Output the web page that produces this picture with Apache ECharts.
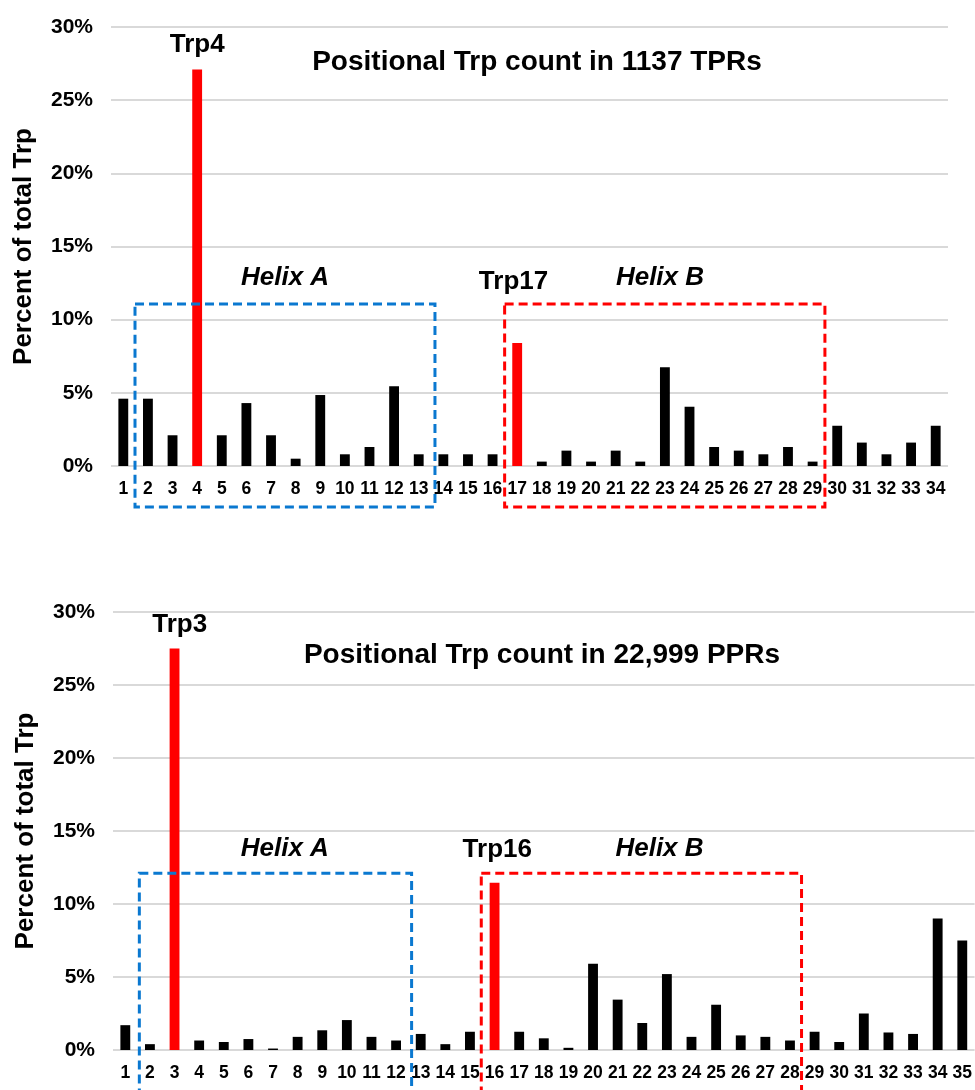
<!DOCTYPE html>
<html>
<head>
<meta charset="utf-8">
<script src="https://cdn.jsdelivr.net/npm/echarts@6/dist/echarts.min.js"></script>
<style>
  html, body { margin: 0; padding: 0; background: #fff; }
  #chart { width: 975px; height: 1090px; }
</style>
</head>
<body>
<div id="chart"></div>
<script>
// data (percent of total Trp per repeat position)
const tprPositions = ['1','2','3','4','5','6','7','8','9','10','11','12','13','14','15','16','17',
  '18','19','20','21','22','23','24','25','26','27','28','29','30','31','32','33','34'];
const tprValues = [4.6, 4.6, 2.1, 27.1, 2.1, 4.3, 2.1, 0.5, 4.85, 0.8, 1.3, 5.45, 0.8, 0.8, 0.8, 0.8, 8.4,
  0.3, 1.05, 0.3, 1.05, 0.3, 6.75, 4.05, 1.3, 1.05, 0.8, 1.3, 0.3, 2.75, 1.6, 0.8, 1.6, 2.75];
const tprHighlight = ['4', '17'];

const pprPositions = ['1','2','3','4','5','6','7','8','9','10','11','12','13','14','15','16','17','18',
  '19','20','21','22','23','24','25','26','27','28','29','30','31','32','33','34','35'];
const pprValues = [1.7, 0.4, 27.5, 0.65, 0.55, 0.75, 0.1, 0.9, 1.35, 2.05, 0.9, 0.65, 1.1, 0.4, 1.25, 11.45, 1.25, 0.8,
  0.15, 5.9, 3.45, 1.85, 5.2, 0.9, 3.1, 1.0, 0.9, 0.65, 1.25, 0.55, 2.5, 1.2, 1.1, 9.0, 7.5];
const pprHighlight = ['3', '16'];

const yTicks = [0, 30, 5]; // min, max, step (%)

const FONT = '"Liberation Sans", Arial, sans-serif';
const RED = '#ff0000';
const BLUE = '#0a78d0';

// annotation layout: pos = position along x in category widths from left edge, val = % on y axis
const panels = [
  {
    title: 'Positional Trp count in 1137 TPRs', titleXY: [537, 62],
    notes: [
      { text: 'Trp4', pos: 3.5, val: 28.75 },
      { text: 'Trp17', pos: 16.35, val: 12.6 },
      { text: 'Helix A', pos: 7.07, val: 12.85, italic: true },
      { text: 'Helix B', pos: 22.3, val: 12.85, italic: true }
    ],
    boxes: [
      { color: BLUE, from: 0.975, to: 13.16, top: 11.07, bottom: -2.8 },
      { color: RED, from: 15.99, to: 29.0, top: 11.07, bottom: -2.8 }
    ]
  },
  {
    title: 'Positional Trp count in 22,999 PPRs', titleXY: [542, 655],
    notes: [
      { text: 'Trp3', pos: 2.71, val: 29.1 },
      { text: 'Trp16', pos: 15.61, val: 13.7 },
      { text: 'Helix A', pos: 6.98, val: 13.8, italic: true },
      { text: 'Helix B', pos: 22.2, val: 13.8, italic: true }
    ],
    boxes: [
      { color: BLUE, from: 1.07, to: 12.13, top: 12.1, bottom: -3.3 },
      { color: RED, from: 14.96, to: 27.97, top: 12.1, bottom: -3.3 }
    ]
  }
];

function barData(cats, vals, hl) {
  return vals.map(function (v, i) {
    return hl.indexOf(cats[i]) >= 0 ? { value: v, itemStyle: { color: RED } } : v;
  });
}

function xAxisFor(gi, cats) {
  return {
    type: 'category', gridIndex: gi, data: cats,
    axisLine: { show: false }, axisTick: { show: false },
    axisLabel: { interval: 0, margin: 14, color: '#000', fontFamily: FONT, fontWeight: 'bold', fontSize: 17.5 }
  };
}

function yAxisFor(gi) {
  return {
    type: 'value', gridIndex: gi, min: yTicks[0], max: yTicks[1], interval: yTicks[2],
    name: 'Percent of total Trp', nameLocation: 'middle', nameGap: 74,
    nameTextStyle: { color: '#000', fontFamily: FONT, fontWeight: 'bold', fontSize: 26 },
    axisLine: { show: false }, axisTick: { show: false },
    axisLabel: { formatter: '{value}%', margin: 18, color: '#000', fontFamily: FONT, fontWeight: 'bold', fontSize: 21 },
    splitLine: { lineStyle: { color: '#d9d9d9', width: 2 } }
  };
}

const chart = echarts.init(document.getElementById('chart'));

chart.setOption({
  animation: false,
  backgroundColor: '#fff',
  grid: [
    { left: 111, right: 27, top: 27, height: 439 },
    { left: 113, right: -1, top: 612, height: 438 }
  ],
  xAxis: [xAxisFor(0, tprPositions), xAxisFor(1, pprPositions)],
  yAxis: [yAxisFor(0), yAxisFor(1)],
  series: [
    {
      type: 'bar', xAxisIndex: 0, yAxisIndex: 0, barWidth: '40%',
      itemStyle: { color: '#000' },
      data: barData(tprPositions, tprValues, tprHighlight)
    },
    {
      type: 'bar', xAxisIndex: 1, yAxisIndex: 1, barWidth: '40%',
      itemStyle: { color: '#000' },
      data: barData(pprPositions, pprValues, pprHighlight)
    }
  ]
});

// place annotations through the axes' own scales
function toPx(gi, pos, val) {
  const a = chart.convertToPixel({ xAxisIndex: gi, yAxisIndex: gi }, [0, val]);
  const b = chart.convertToPixel({ xAxisIndex: gi, yAxisIndex: gi }, [1, val]);
  const band = b[0] - a[0];
  return [a[0] + (pos - 0.5) * band, a[1]];
}

const graphics = [];
panels.forEach(function (p, gi) {
  graphics.push({
    type: 'text', x: p.titleXY[0], y: p.titleXY[1], z: 10,
    style: { text: p.title, fill: '#000', font: 'bold 28px ' + FONT, textAlign: 'center', textVerticalAlign: 'middle' }
  });
  p.notes.forEach(function (n) {
    const xy = toPx(gi, n.pos, n.val);
    graphics.push({
      type: 'text', x: xy[0], y: xy[1], z: 10,
      style: {
        text: n.text, fill: '#000',
        font: (n.italic ? 'italic ' : '') + 'bold 26px ' + FONT,
        textAlign: 'center', textVerticalAlign: 'middle'
      }
    });
  });
  p.boxes.forEach(function (bx) {
    const tl = toPx(gi, bx.from, bx.top);
    const br = toPx(gi, bx.to, bx.bottom);
    graphics.push({
      type: 'rect', z: 20,
      shape: { x: tl[0], y: tl[1], width: br[0] - tl[0], height: br[1] - tl[1] },
      style: { fill: 'none', stroke: bx.color, lineWidth: 3, lineDash: [9, 5] }
    });
  });
});

chart.setOption({ graphic: graphics });
</script>
</body>
</html>
